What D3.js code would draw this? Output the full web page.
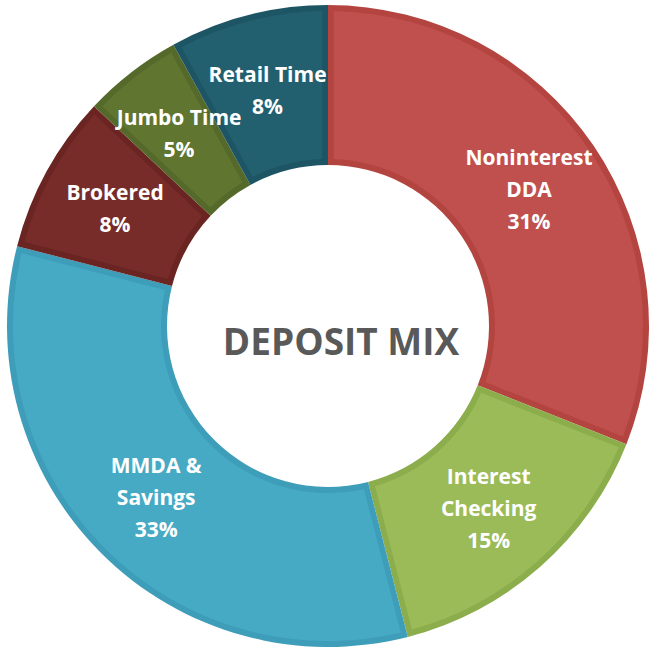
<!DOCTYPE html>
<html>
<head>
<meta charset="utf-8">
<script src="https://cdn.jsdelivr.net/npm/d3@7"></script>
<style>
  body { margin: 0; background: #fff; }
  text { font-family: "Open Sans", Lato, sans-serif; }
</style>
</head>
<body>
<div id="chart"></div>
<script>
// slice data, clockwise from 12 o'clock
const labels = [["Noninterest", "DDA"], ["Interest", "Checking"], ["MMDA &", "Savings"], ["Brokered"], ["Jumbo Time"], ["Retail Time"]];
const shares = [31, 15, 33, 8, 5, 8];
const fills = ["#C0504D", "#9BBB59", "#46AAC5", "#772C2A", "#5F7530", "#22606F"];
const borders = ["#B3443F", "#8CAD4C", "#3E9DB9", "#6A2422", "#556A2A", "#1D5564"];
const title = "DEPOSIT MIX";

const width = 652, height = 653;
const cx = 328, cy = 326;
const outerR = 321, innerR = 161;

const svg = d3.select("#chart")
    .append("svg")
    .attr("width", width)
    .attr("height", height);

const g = svg.append("g")
    .attr("transform", `translate(${cx},${cy})`);

const data = shares.map((v, i) => ({value: v, label: labels[i], fill: fills[i], border: borders[i]}));

const pie = d3.pie().value(d => d.value).sort(null);
const arcs = pie(data);

const outerArc = d3.arc().innerRadius(innerR).outerRadius(outerR);
// inset arc gives the darker rim around each slice
const insetArc = d3.arc()
    .innerRadius(innerR + 6)
    .outerRadius(outerR - 6)
    .padAngle(0.1)
    .padRadius(115);
const labelArc = d3.arc().innerRadius(243).outerRadius(243);

g.selectAll("path.rim")
    .data(arcs)
    .join("path")
      .attr("class", "rim")
      .attr("d", outerArc)
      .attr("fill", d => d.data.border);

g.selectAll("path.face")
    .data(arcs)
    .join("path")
      .attr("class", "face")
      .attr("d", insetArc)
      .attr("fill", d => d.data.fill);

const lineH = 32;
const lbl = g.selectAll("text.lbl")
    .data(arcs)
    .join("text")
      .attr("class", "lbl")
      .attr("transform", d => `translate(${labelArc.centroid(d)})`)
      .attr("text-anchor", "middle")
      .attr("fill", "#fff")
      .attr("font-size", 21)
      .attr("font-weight", "bold");

lbl.each(function(d) {
    const lines = d.data.label.concat([d.data.value + "%"]);
    const t = d3.select(this);
    const start = -(lines.length - 1) * lineH / 2;
    lines.forEach((s, i) => {
        t.append("tspan")
            .attr("x", 0)
            .attr("y", start + i * lineH)
            .attr("dy", "0.35em")
            .text(s);
    });
});

g.append("text")
    .attr("x", 13)
    .attr("y", 16)
    .attr("dy", "0.35em")
    .attr("text-anchor", "middle")
    .attr("fill", "#595959")
    .attr("font-size", 37)
    .attr("font-weight", "bold")
    .text(title);
</script>
</body>
</html>
